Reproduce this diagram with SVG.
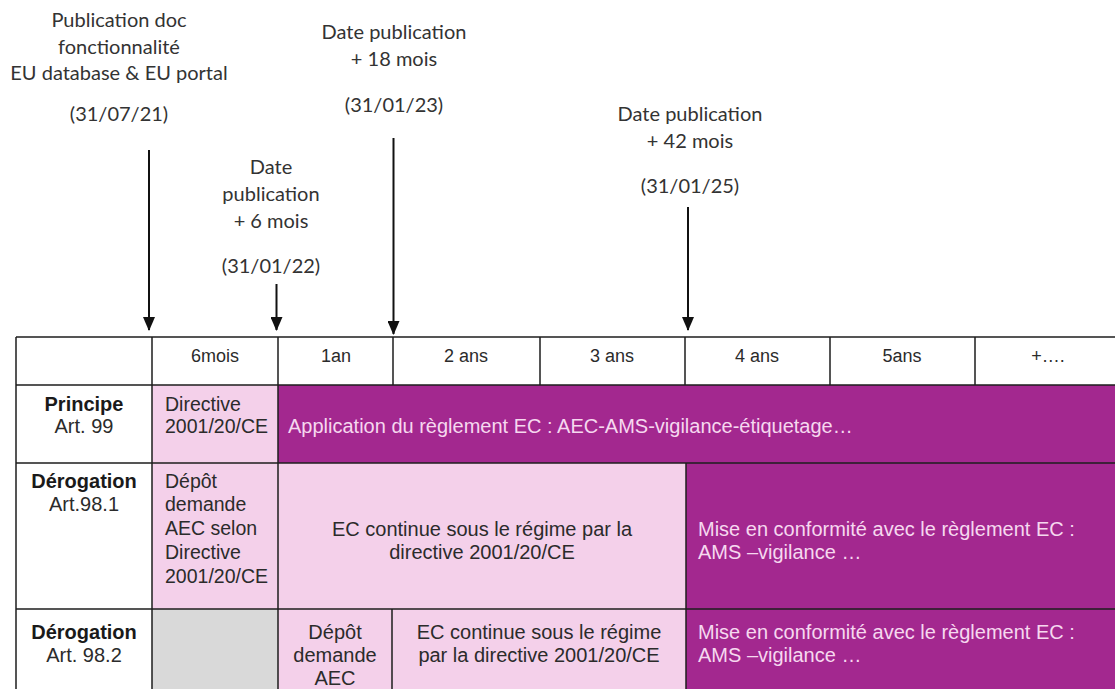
<svg xmlns="http://www.w3.org/2000/svg" width="1115" height="689" viewBox="0 0 1115 689">
<style>
.lbl{font-family:Lato,"Open Sans","Liberation Sans",sans-serif;font-size:20px;fill:#333;text-anchor:middle}
.t{font-family:"Liberation Sans",Arial,sans-serif;font-size:20px;fill:#2b2b2b}
.h{font-size:18px}
.n{font-size:19.5px}
.c{text-anchor:middle}
.b{font-weight:bold;fill:#1a1a1a}
.w{fill:#f6d8ef}
.grid{stroke:#1e1e1e;stroke-width:1.5;fill:none}
.pink{fill:#f4d0ea}
.mag{fill:#a3288f}
.gray{fill:#d9d9d9}
.white{fill:#ffffff}
.arrow{stroke:#111;stroke-width:2;fill:none;marker-end:url(#ah)}
</style>
<defs>
<marker id="ah" markerWidth="14" markerHeight="12" refX="13" refY="6" orient="auto" markerUnits="userSpaceOnUse" viewBox="0 0 14 12">
<path d="M0,0 L14,6 L0,12 Z" fill="#111"/>
</marker>
</defs>
<rect width="1115" height="689" fill="#ffffff"/>

<g id="label-publication">
<text class="lbl" x="119" y="27">Publication doc</text>
<text class="lbl" x="119" y="54">fonctionnalité</text>
<text class="lbl" x="119" y="80">EU database &amp; EU portal</text>
<text class="lbl" x="119" y="121">(31/07/21)</text>
</g>
<g id="label-6mois">
<text class="lbl" x="271" y="174">Date</text>
<text class="lbl" x="271" y="201">publication</text>
<text class="lbl" x="271" y="228">+ 6 mois</text>
<text class="lbl" x="271" y="273">(31/01/22)</text>
</g>
<g id="label-18mois">
<text class="lbl" x="394" y="39">Date publication</text>
<text class="lbl" x="394" y="66">+ 18 mois</text>
<text class="lbl" x="394" y="112">(31/01/23)</text>
</g>
<g id="label-42mois">
<text class="lbl" x="690" y="121">Date publication</text>
<text class="lbl" x="690" y="148">+ 42 mois</text>
<text class="lbl" x="690" y="193">(31/01/25)</text>
</g>

<g id="table-fills">
<rect class="white" x="16" y="337" width="1105" height="48"/>
<rect class="pink" x="152" y="385" width="126" height="78"/>
<rect class="mag" x="278" y="385" width="840" height="78"/>
<rect class="pink" x="152" y="463" width="126" height="146"/>
<rect class="pink" x="278" y="463" width="408" height="146"/>
<rect class="mag" x="686" y="463" width="432" height="146"/>
<rect class="gray" x="152" y="609" width="126" height="82"/>
<rect class="pink" x="278" y="609" width="408" height="82"/>
<rect class="mag" x="686" y="609" width="432" height="82"/>
</g>

<g id="table-grid" class="grid">
<path d="M16,337 H1120 M16,385 H1120 M16,463 H1120 M16,609 H1120"/>
<path d="M16,337 V690 M152,337 V690 M278,337 V690"/>
<path d="M393,337 V385 M540,337 V385 M685,337 V385 M830,337 V385 M975,337 V385"/>
<path d="M686,463 V690 M392,609 V690"/>
</g>

<g id="header">
<text class="t h c" x="215" y="362">6mois</text>
<text class="t h c" x="336" y="362">1an</text>
<text class="t h c" x="466" y="362">2 ans</text>
<text class="t h c" x="612" y="362">3 ans</text>
<text class="t h c" x="757" y="362">4 ans</text>
<text class="t h c" x="902" y="362">5ans</text>
<text class="t h c" x="1048" y="362">+….</text>
</g>

<g id="row-principe">
<text class="t c b" x="84" y="411">Principe</text>
<text class="t c" x="84" y="433">Art. 99</text>
</g>
<g id="cell-principe-directive">
<text class="t n" x="165" y="411">Directive</text>
<text class="t n" x="165" y="433">2001/20/CE</text>
</g>
<g id="cell-principe-application">
<text class="t w" x="288" y="433">Application du règlement EC : AEC-AMS-vigilance-étiquetage…</text>
</g>

<g id="row-derogation-981">
<text class="t c b" x="84" y="488">Dérogation</text>
<text class="t c" x="84" y="511">Art.98.1</text>
</g>
<g id="cell-981-depot">
<text class="t n" x="165" y="488">Dépôt</text>
<text class="t n" x="165" y="511">demande</text>
<text class="t n" x="165" y="535">AEC selon</text>
<text class="t n" x="165" y="559">Directive</text>
<text class="t n" x="165" y="583">2001/20/CE</text>
</g>
<g id="cell-981-continue">
<text class="t c" x="482" y="536">EC continue sous le régime par la</text>
<text class="t c" x="482" y="559">directive 2001/20/CE</text>
</g>
<g id="cell-981-conformite">
<text class="t w" x="698" y="536">Mise en conformité avec le règlement EC :</text>
<text class="t w" x="698" y="559">AMS –vigilance …</text>
</g>

<g id="row-derogation-982">
<text class="t c b" x="84" y="639">Dérogation</text>
<text class="t c" x="84" y="662">Art. 98.2</text>
</g>
<g id="cell-982-depot">
<text class="t c" x="335" y="639">Dépôt</text>
<text class="t c" x="335" y="662">demande</text>
<text class="t c" x="335" y="685">AEC</text>
</g>
<g id="cell-982-continue">
<text class="t c" x="539" y="639">EC continue sous le régime</text>
<text class="t c" x="539" y="662">par la directive 2001/20/CE</text>
</g>
<g id="cell-982-conformite">
<text class="t w" x="698" y="639">Mise en conformité avec le règlement EC :</text>
<text class="t w" x="698" y="662">AMS –vigilance …</text>
</g>

<g id="connectors">
<line class="arrow" x1="149" y1="150" x2="149" y2="330"/>
<line class="arrow" x1="276.5" y1="284" x2="276.5" y2="330"/>
<line class="arrow" x1="393.5" y1="138" x2="393.5" y2="334"/>
<line class="arrow" x1="688" y1="207" x2="688" y2="330"/>
</g>
</svg>
